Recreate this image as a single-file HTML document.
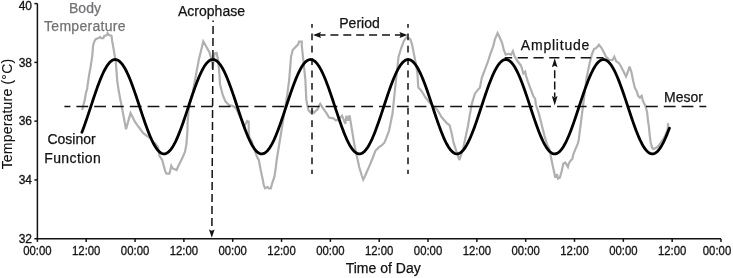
<!DOCTYPE html>
<html><head><meta charset="utf-8"><style>
html,body{margin:0;padding:0;background:#fff;}
body{width:733px;height:278px;overflow:hidden;}
svg{display:block;will-change:transform;}
text{font-family:"Liberation Sans",sans-serif;}
</style></head><body>
<svg width="733" height="278" viewBox="0 0 733 278">
<rect width="733" height="278" fill="#fff"/>
<path d="M82.2,110.0 L83.5,104.6 L84.7,100.2 L86.0,92.6 L87.2,88.8 L87.6,85.0 L89.2,74.4 L90.8,65.8 L92.4,55.0 L93.0,46.2 L94.1,41.9 L95.7,39.2 L98.4,38.1 L100.0,37.0 L101.0,38.2 L103.4,38.2 L104.3,35.9 L106.5,35.4 L107.6,33.2 L108.7,34.9 L111.5,35.9 L112.2,41.0 L113.7,49.6 L115.8,62.0 L117.2,80.7 L118.7,90.8 L120.8,102.0 L122.4,110.0 L126.0,129.3 L130.5,113.1 L135.0,122.0 L137.7,125.7 L139.5,128.0 L143.0,133.0 L147.0,136.0 L150.0,138.0 L153.5,142.5 L155.0,143.4 L158.0,147.0 L159.4,155.8 L162.2,160.0 L165.1,170.9 L166.5,173.7 L169.4,173.7 L171.3,165.8 L172.7,168.4 L176.6,170.0 L178.8,165.0 L182.0,158.8 L185.0,151.6 L186.4,144.4 L187.5,130.0 L187.6,122.0 L188.6,110.0 L190.5,100.0 L192.8,92.0 L194.1,85.0 L195.7,76.6 L196.8,70.1 L197.9,64.7 L198.9,59.3 L200.0,55.0 L203.3,41.5 L205.8,45.8 L209.4,52.3 L212.0,61.0 L212.6,69.0 L214.4,53.7 L216.6,53.0 L218.0,59.5 L219.5,75.0 L220.0,84.4 L222.8,95.2 L225.5,101.5 L229.0,105.0 L232.7,106.0 L236.0,108.0 L240.0,117.0 L244.4,125.9 L247.3,120.9 L248.7,121.6 L248.7,131.0 L249.4,137.4 L251.5,141.0 L256.9,156.6 L258.8,160.0 L260.7,170.0 L262.6,178.9 L263.8,185.2 L265.1,188.3 L267.6,187.0 L268.9,188.3 L270.8,188.3 L272.0,183.9 L274.5,176.4 L275.8,167.5 L276.7,160.0 L287.2,95.0 L289.2,80.0 L291.0,57.0 L292.8,49.8 L295.5,47.1 L298.2,44.4 L299.0,41.7 L301.8,41.7 L301.8,46.2 L303.2,58.8 L304.5,71.4 L305.4,80.0 L306.3,99.6 L307.6,106.5 L308.6,110.5 L310.5,112.5 L312.0,110.5 L314.0,112.8 L316.0,110.5 L317.6,109.5 L318.6,106.5 L320.2,103.8 L323.4,108.8 L326.5,113.2 L329.0,117.6 L333.4,118.3 L336.0,120.5 L339.0,119.0 L342.0,115.8 L343.7,119.6 L345.3,123.9 L346.4,115.8 L348.0,120.7 L349.6,115.3 L350.7,122.3 L352.8,135.0 L354.5,145.6 L356.5,154.4 L359.2,167.0 L361.9,176.0 L363.2,179.6 L364.6,176.9 L368.2,168.8 L372.7,158.0 L375.4,150.8 L379.0,147.2 L381.7,145.4 L384.4,142.7 L386.3,138.2 L389.0,131.0 L390.8,122.0 L392.6,113.0 L393.5,104.0 L394.4,95.0 L398.5,57.0 L401.2,48.0 L403.9,40.8 L406.6,37.2 L410.2,39.0 L412.0,44.4 L413.8,53.4 L415.6,62.4 L417.4,73.0 L418.3,87.6 L421.0,90.3 L422.8,93.0 L425.5,97.5 L430.0,103.0 L433.0,106.0 L437.0,109.5 L439.5,113.5 L441.5,117.0 L445.0,121.0 L447.0,123.5 L449.5,125.0 L451.7,133.4 L453.5,142.4 L456.6,151.9 L459.3,160.0 L461.5,154.0 L463.6,146.5 L466.0,135.2 L467.9,126.2 L469.7,115.4 L471.9,103.6 L474.9,93.7 L477.9,89.7 L479.9,87.7 L481.8,77.8 L484.8,69.9 L487.8,62.0 L490.4,53.8 L493.1,46.6 L494.9,39.4 L497.6,33.1 L499.4,36.7 L502.1,43.0 L503.9,50.2 L505.7,54.7 L508.4,53.8 L511.1,54.7 L512.9,51.1 L514.7,56.5 L517.4,61.0 L521.0,65.5 L523.4,73.5 L525.2,71.7 L526.1,76.2 L527.9,81.6 L530.6,88.8 L533.3,96.0 L535.1,98.7 L536.0,105.0 L539.0,114.0 L541.7,124.8 L544.4,135.6 L547.1,144.6 L549.8,150.0 L550.8,156.2 L552.6,165.2 L554.4,173.3 L555.3,177.8 L557.1,174.2 L558.0,178.7 L559.8,177.8 L561.6,171.5 L563.4,163.4 L565.2,162.5 L567.9,167.0 L568.8,163.4 L570.6,160.7 L572.4,158.9 L573.3,154.4 L575.1,149.9 L577.8,143.6 L578.7,140.0 L584.4,95.0 L586.5,78.2 L589.7,63.1 L591.9,54.4 L594.0,49.0 L596.2,48.0 L599.0,44.7 L601.6,48.0 L603.8,52.3 L605.9,56.6 L609.2,59.8 L612.4,60.0 L614.3,56.7 L616.1,61.2 L618.8,63.0 L620.6,65.7 L623.3,71.1 L626.0,76.5 L627.8,72.0 L629.6,66.6 L631.4,72.0 L633.2,81.0 L635.0,88.2 L636.8,91.5 L638.1,95.8 L639.9,97.6 L641.7,95.8 L643.0,101.2 L645.3,105.7 L647.1,112.0 L648.0,121.0 L648.8,125.8 L649.7,134.8 L650.6,142.0 L652.0,147.4 L653.3,149.2 L655.1,148.3 L656.9,147.4 L658.7,145.6 L662.0,141.0 L665.0,136.0 L667.7,129.4 L668.2,123.1" fill="none" stroke="#b0b0b0" stroke-width="2.2" stroke-linejoin="miter" stroke-miterlimit="3"/>
<g stroke="#141213" stroke-width="1.5" fill="none">
<line x1="64.4" y1="106.5" x2="706.3" y2="106.5" stroke-dasharray="11.8 6" stroke-dashoffset="5.8"/>
<line x1="504.7" y1="57.7" x2="603.5" y2="57.7" stroke-dasharray="10.2 5.55" stroke-dashoffset="2.75"/>
<line x1="213.1" y1="20.5" x2="211.9" y2="226" stroke-dasharray="8 4" stroke-dashoffset="6.5"/>
<line x1="312.0" y1="24" x2="312.0" y2="174" stroke-dasharray="6.8 5.6" stroke-dashoffset="3"/>
<line x1="408.0" y1="24" x2="408.0" y2="174" stroke-dasharray="6.8 5.6" stroke-dashoffset="3"/>
<line x1="317.5" y1="35.1" x2="402" y2="35.1" stroke-dasharray="8 4.9"/>
<line x1="554.7" y1="70.2" x2="554.7" y2="97" stroke-dasharray="8 3.2"/>
</g>
<g fill="#141213">
<path d="M209.00,229.50 L211.80,230.75 L214.60,229.50 L211.80,237.80 Z"/>
<path d="M321.00,32.10 L319.80,35.10 L321.00,38.10 L313.00,35.10 Z"/>
<path d="M399.50,32.10 L400.70,35.10 L399.50,38.10 L407.50,35.10 Z"/>
<path d="M551.85,67.20 L554.70,65.85 L557.55,67.20 L554.70,58.20 Z"/>
<path d="M551.85,96.10 L554.70,97.52 L557.55,96.10 L554.70,105.60 Z"/>
</g>
<path d="M81.90,132.24 L82.90,129.63 L83.90,126.93 L84.90,124.15 L85.90,121.29 L86.90,118.38 L87.90,115.41 L88.90,112.41 L89.90,109.39 L90.90,106.35 L91.90,103.32 L92.90,100.30 L93.90,97.31 L94.90,94.35 L95.90,91.45 L96.90,88.61 L97.90,85.84 L98.90,83.16 L99.90,80.58 L100.90,78.11 L101.90,75.75 L102.90,73.52 L103.90,71.43 L104.90,69.49 L105.90,67.70 L106.90,66.07 L107.90,64.61 L108.90,63.32 L109.90,62.22 L110.90,61.29 L111.90,60.56 L112.90,60.02 L113.90,59.67 L114.90,59.51 L115.90,59.55 L116.90,59.78 L117.90,60.21 L118.90,60.83 L119.90,61.64 L120.90,62.64 L121.90,63.82 L122.90,65.17 L123.90,66.70 L124.90,68.40 L125.90,70.25 L126.90,72.25 L127.90,74.40 L128.90,76.68 L129.90,79.08 L130.90,81.60 L131.90,84.22 L132.90,86.94 L133.90,89.74 L134.90,92.60 L135.90,95.53 L136.90,98.50 L137.90,101.50 L138.90,104.53 L139.90,107.57 L140.90,110.60 L141.90,113.62 L142.90,116.60 L143.90,119.55 L144.90,122.44 L145.90,125.27 L146.90,128.02 L147.90,130.69 L148.90,133.25 L149.90,135.71 L150.90,138.04 L151.90,140.24 L152.90,142.31 L153.90,144.23 L154.90,145.99 L155.90,147.59 L156.90,149.02 L157.90,150.28 L158.90,151.35 L159.90,152.24 L160.90,152.95 L161.90,153.46 L162.90,153.78 L163.90,153.90 L164.90,153.83 L165.90,153.56 L166.90,153.10 L167.90,152.44 L168.90,151.60 L169.90,150.57 L170.90,149.36 L171.90,147.98 L172.90,146.42 L173.90,144.70 L174.90,142.82 L175.90,140.79 L176.90,138.62 L177.90,136.32 L178.90,133.89 L179.90,131.36 L180.90,128.72 L181.90,125.99 L182.90,123.18 L183.90,120.30 L184.90,117.37 L185.90,114.39 L186.90,111.38 L187.90,108.35 L188.90,105.31 L189.90,102.28 L190.90,99.27 L191.90,96.29 L192.90,93.35 L193.90,90.47 L194.90,87.65 L195.90,84.91 L196.90,82.27 L197.90,79.72 L198.90,77.29 L199.90,74.97 L200.90,72.79 L201.90,70.75 L202.90,68.86 L203.90,67.12 L204.90,65.55 L205.90,64.15 L206.90,62.92 L207.90,61.88 L208.90,61.02 L209.90,60.35 L210.90,59.87 L211.90,59.59 L212.90,59.50 L213.90,59.61 L214.90,59.91 L215.90,60.40 L216.90,61.09 L217.90,61.96 L218.90,63.02 L219.90,64.26 L220.90,65.68 L221.90,67.27 L222.90,69.02 L223.90,70.92 L224.90,72.97 L225.90,75.17 L226.90,77.49 L227.90,79.93 L228.90,82.49 L229.90,85.14 L230.90,87.89 L231.90,90.71 L232.90,93.60 L233.90,96.54 L234.90,99.53 L235.90,102.54 L236.90,105.57 L237.90,108.61 L238.90,111.64 L239.90,114.64 L240.90,117.62 L241.90,120.55 L242.90,123.42 L243.90,126.23 L244.90,128.95 L245.90,131.58 L246.90,134.11 L247.90,136.52 L248.90,138.81 L249.90,140.97 L250.90,142.98 L251.90,144.85 L252.90,146.56 L253.90,148.10 L254.90,149.47 L255.90,150.67 L256.90,151.68 L257.90,152.51 L258.90,153.14 L259.90,153.59 L260.90,153.84 L261.90,153.90 L262.90,153.76 L263.90,153.42 L264.90,152.89 L265.90,152.18 L266.90,151.27 L267.90,150.18 L268.90,148.91 L269.90,147.46 L270.90,145.85 L271.90,144.07 L272.90,142.14 L273.90,140.06 L274.90,137.84 L275.90,135.50 L276.90,133.04 L277.90,130.46 L278.90,127.79 L279.90,125.03 L280.90,122.20 L281.90,119.30 L282.90,116.35 L283.90,113.36 L284.90,110.34 L285.90,107.31 L286.90,104.27 L287.90,101.25 L288.90,98.24 L289.90,95.27 L290.90,92.35 L291.90,89.49 L292.90,86.70 L293.90,83.99 L294.90,81.38 L295.90,78.87 L296.90,76.48 L297.90,74.21 L298.90,72.08 L299.90,70.09 L300.90,68.25 L301.90,66.57 L302.90,65.05 L303.90,63.71 L304.90,62.55 L305.90,61.56 L306.90,60.77 L307.90,60.17 L308.90,59.75 L309.90,59.54 L310.90,59.51 L311.90,59.69 L312.90,60.05 L313.90,60.62 L314.90,61.37 L315.90,62.31 L316.90,63.43 L317.90,64.73 L318.90,66.20 L319.90,67.85 L320.90,69.65 L321.90,71.61 L322.90,73.71 L323.90,75.95 L324.90,78.31 L325.90,80.80 L326.90,83.39 L327.90,86.08 L328.90,88.85 L329.90,91.69 L330.90,94.60 L331.90,97.56 L332.90,100.56 L333.90,103.58 L334.90,106.61 L335.90,109.65 L336.90,112.67 L337.90,115.67 L338.90,118.63 L339.90,121.54 L340.90,124.39 L341.90,127.17 L342.90,129.86 L343.90,132.46 L344.90,134.95 L345.90,137.32 L346.90,139.57 L347.90,141.68 L348.90,143.64 L349.90,145.45 L350.90,147.11 L351.90,148.59 L352.90,149.90 L353.90,151.04 L354.90,151.98 L355.90,152.75 L356.90,153.32 L357.90,153.70 L358.90,153.88 L359.90,153.87 L360.90,153.66 L361.90,153.26 L362.90,152.67 L363.90,151.89 L364.90,150.92 L365.90,149.76 L366.90,148.43 L367.90,146.93 L368.90,145.25 L369.90,143.42 L370.90,141.44 L371.90,139.32 L372.90,137.05 L373.90,134.67 L374.90,132.17 L375.90,129.56 L376.90,126.85 L377.90,124.07 L378.90,121.21 L379.90,118.29 L380.90,115.33 L381.90,112.33 L382.90,109.30 L383.90,106.27 L384.90,103.23 L385.90,100.21 L386.90,97.22 L387.90,94.27 L388.90,91.37 L389.90,88.53 L390.90,85.76 L391.90,83.09 L392.90,80.51 L393.90,78.04 L394.90,75.69 L395.90,73.46 L396.90,71.38 L397.90,69.44 L398.90,67.65 L399.90,66.03 L400.90,64.57 L401.90,63.29 L402.90,62.19 L403.90,61.27 L404.90,60.54 L405.90,60.00 L406.90,59.66 L407.90,59.51 L408.90,59.55 L409.90,59.79 L410.90,60.23 L411.90,60.85 L412.90,61.67 L413.90,62.67 L414.90,63.85 L415.90,65.22 L416.90,66.75 L417.90,68.45 L418.90,70.31 L419.90,72.31 L420.90,74.46 L421.90,76.75 L422.90,79.15 L423.90,81.67 L424.90,84.30 L425.90,87.02 L426.90,89.82 L427.90,92.68 L428.90,95.61 L429.90,98.58 L430.90,101.59 L431.90,104.62 L432.90,107.65 L433.90,110.69 L434.90,113.70 L435.90,116.69 L436.90,119.63 L437.90,122.53 L438.90,125.35 L439.90,128.10 L440.90,130.76 L441.90,133.32 L442.90,135.77 L443.90,138.10 L444.90,140.30 L445.90,142.37 L446.90,144.28 L447.90,146.04 L448.90,147.63 L449.90,149.06 L450.90,150.31 L451.90,151.38 L452.90,152.27 L453.90,152.96 L454.90,153.47 L455.90,153.78 L456.90,153.90 L457.90,153.82 L458.90,153.55 L459.90,153.08 L460.90,152.42 L461.90,151.57 L462.90,150.54 L463.90,149.32 L464.90,147.93 L465.90,146.37 L466.90,144.64 L467.90,142.76 L468.90,140.73 L469.90,138.55 L470.90,136.25 L471.90,133.82 L472.90,131.28 L473.90,128.64 L474.90,125.91 L475.90,123.10 L476.90,120.22 L477.90,117.28 L478.90,114.30 L479.90,111.29 L480.90,108.26 L481.90,105.23 L482.90,102.20 L483.90,99.18 L484.90,96.20 L485.90,93.27 L486.90,90.38 L487.90,87.57 L488.90,84.84 L489.90,82.19 L490.90,79.65 L491.90,77.22 L492.90,74.91 L493.90,72.73 L494.90,70.69 L495.90,68.81 L496.90,67.08 L497.90,65.51 L498.90,64.11 L499.90,62.89 L500.90,61.85 L501.90,61.00 L502.90,60.34 L503.90,59.86 L504.90,59.58 L505.90,59.50 L506.90,59.61 L507.90,59.92 L508.90,60.42 L509.90,61.11 L510.90,61.99 L511.90,63.06 L512.90,64.30 L513.90,65.72 L514.90,67.31 L515.90,69.07 L516.90,70.98 L517.90,73.03 L518.90,75.23 L519.90,77.56 L520.90,80.01 L521.90,82.56 L522.90,85.22 L523.90,87.97 L524.90,90.79 L525.90,93.68 L526.90,96.63 L527.90,99.61 L528.90,102.63 L529.90,105.66 L530.90,108.70 L531.90,111.72 L532.90,114.73 L533.90,117.70 L534.90,120.63 L535.90,123.50 L536.90,126.30 L537.90,129.02 L538.90,131.65 L539.90,134.18 L540.90,136.59 L541.90,138.87 L542.90,141.03 L543.90,143.04 L544.90,144.90 L545.90,146.60 L546.90,148.14 L547.90,149.51 L548.90,150.70 L549.90,151.71 L550.90,152.53 L551.90,153.16 L552.90,153.60 L553.90,153.84 L554.90,153.89 L555.90,153.75 L556.90,153.41 L557.90,152.88 L558.90,152.15 L559.90,151.24 L560.90,150.14 L561.90,148.87 L562.90,147.42 L563.90,145.80 L564.90,144.02 L565.90,142.08 L566.90,140.00 L567.90,137.78 L568.90,135.43 L569.90,132.96 L570.90,130.39 L571.90,127.71 L572.90,124.95 L573.90,122.12 L574.90,119.22 L575.90,116.26 L576.90,113.27 L577.90,110.25 L578.90,107.22 L579.90,104.18 L580.90,101.16 L581.90,98.16 L582.90,95.19 L583.90,92.27 L584.90,89.41 L585.90,86.62 L586.90,83.92 L587.90,81.31 L588.90,78.80 L589.90,76.41 L590.90,74.15 L591.90,72.02 L592.90,70.03 L593.90,68.20 L594.90,66.52 L595.90,65.01 L596.90,63.67 L597.90,62.52 L598.90,61.54 L599.90,60.75 L600.90,60.15 L601.90,59.75 L602.90,59.53 L603.90,59.52 L604.90,59.70 L605.90,60.07 L606.90,60.63 L607.90,61.39 L608.90,62.33 L609.90,63.46 L610.90,64.77 L611.90,66.25 L612.90,67.90 L613.90,69.70 L614.90,71.67 L615.90,73.77 L616.90,76.01 L617.90,78.38 L618.90,80.87 L619.90,83.46 L620.90,86.15 L621.90,88.93 L622.90,91.78 L623.90,94.69 L624.90,97.65 L625.90,100.64 L626.90,103.67 L627.90,106.70 L628.90,109.73 L629.90,112.76 L630.90,115.75 L631.90,118.71 L632.90,121.62 L633.90,124.47 L634.90,127.25 L635.90,129.94 L636.90,132.53 L637.90,135.02 L638.90,137.39 L639.90,139.63 L640.90,141.73 L641.90,143.70 L642.90,145.50 L643.90,147.15 L644.90,148.63 L645.90,149.94 L646.90,151.07 L647.90,152.01 L648.90,152.77 L649.90,153.33 L650.90,153.70 L651.90,153.88 L652.90,153.87 L653.90,153.65 L654.90,153.25 L655.90,152.65 L656.90,151.86 L657.90,150.88 L658.90,149.73 L659.90,148.39 L660.90,146.88 L661.90,145.20 L662.90,143.37 L663.90,141.38 L664.90,139.25 L665.90,136.99 L666.90,134.60 L667.90,132.09 L668.90,129.48 L669.40,128.14" fill="none" stroke="#000" stroke-width="2.8" stroke-linejoin="round" stroke-linecap="round"/>
<g stroke="#141213" stroke-width="1.5" fill="none">
<path d="M37.40,3.60 L37.40,238.70 L721.00,238.70"/>
<line x1="37.40" y1="238.70" x2="37.40" y2="241.90"/><line x1="86.23" y1="238.70" x2="86.23" y2="241.90"/><line x1="135.06" y1="238.70" x2="135.06" y2="241.90"/><line x1="183.89" y1="238.70" x2="183.89" y2="241.90"/><line x1="232.71" y1="238.70" x2="232.71" y2="241.90"/><line x1="281.54" y1="238.70" x2="281.54" y2="241.90"/><line x1="330.37" y1="238.70" x2="330.37" y2="241.90"/><line x1="379.20" y1="238.70" x2="379.20" y2="241.90"/><line x1="428.03" y1="238.70" x2="428.03" y2="241.90"/><line x1="476.86" y1="238.70" x2="476.86" y2="241.90"/><line x1="525.69" y1="238.70" x2="525.69" y2="241.90"/><line x1="574.51" y1="238.70" x2="574.51" y2="241.90"/><line x1="623.34" y1="238.70" x2="623.34" y2="241.90"/><line x1="672.17" y1="238.70" x2="672.17" y2="241.90"/><line x1="721.00" y1="238.70" x2="721.00" y2="241.90"/><line x1="34.40" y1="238.70" x2="37.40" y2="238.70"/><line x1="34.40" y1="179.92" x2="37.40" y2="179.92"/><line x1="34.40" y1="121.15" x2="37.40" y2="121.15"/><line x1="34.40" y1="62.38" x2="37.40" y2="62.38"/><line x1="34.40" y1="3.60" x2="37.40" y2="3.60"/>
</g>
<g fill="#141213" font-size="12" stroke="#141213" stroke-width="0.3">
<text x="37.40" y="254.8" text-anchor="middle" textLength="28.4" lengthAdjust="spacingAndGlyphs">00:00</text><text x="86.23" y="254.8" text-anchor="middle" textLength="28.4" lengthAdjust="spacingAndGlyphs">12:00</text><text x="135.06" y="254.8" text-anchor="middle" textLength="28.4" lengthAdjust="spacingAndGlyphs">00:00</text><text x="183.89" y="254.8" text-anchor="middle" textLength="28.4" lengthAdjust="spacingAndGlyphs">12:00</text><text x="232.71" y="254.8" text-anchor="middle" textLength="28.4" lengthAdjust="spacingAndGlyphs">00:00</text><text x="281.54" y="254.8" text-anchor="middle" textLength="28.4" lengthAdjust="spacingAndGlyphs">12:00</text><text x="330.37" y="254.8" text-anchor="middle" textLength="28.4" lengthAdjust="spacingAndGlyphs">00:00</text><text x="379.20" y="254.8" text-anchor="middle" textLength="28.4" lengthAdjust="spacingAndGlyphs">12:00</text><text x="428.03" y="254.8" text-anchor="middle" textLength="28.4" lengthAdjust="spacingAndGlyphs">00:00</text><text x="476.86" y="254.8" text-anchor="middle" textLength="28.4" lengthAdjust="spacingAndGlyphs">12:00</text><text x="525.69" y="254.8" text-anchor="middle" textLength="28.4" lengthAdjust="spacingAndGlyphs">00:00</text><text x="574.51" y="254.8" text-anchor="middle" textLength="28.4" lengthAdjust="spacingAndGlyphs">12:00</text><text x="623.34" y="254.8" text-anchor="middle" textLength="28.4" lengthAdjust="spacingAndGlyphs">00:00</text><text x="672.17" y="254.8" text-anchor="middle" textLength="28.4" lengthAdjust="spacingAndGlyphs">12:00</text><text x="717.00" y="254.8" text-anchor="middle" textLength="28.4" lengthAdjust="spacingAndGlyphs">00:00</text>
<text x="32.0" y="243.00" text-anchor="end">32</text><text x="32.0" y="184.22" text-anchor="end">34</text><text x="32.0" y="125.45" text-anchor="end">36</text><text x="32.0" y="66.67" text-anchor="end">38</text><text x="32.0" y="10.00" text-anchor="end">40</text>
</g>
<g fill="#141213" font-size="14" stroke="#141213" stroke-width="0.25">
<text x="211.5" y="15.8" text-anchor="middle">Acrophase</text>
<text x="359.5" y="27.8" text-anchor="middle">Period</text>
<text x="520.8" y="50.1" textLength="68.6">Amplitude</text>
<text x="664" y="101.6">Mesor</text>
<text x="71.5" y="144.4" text-anchor="middle">Cosinor</text>
<text x="44.2" y="163" textLength="56.6">Function</text>
<text x="383.2" y="272.5" text-anchor="middle">Time of Day</text>
<text transform="translate(11.6,114.1) rotate(-90)" text-anchor="middle" textLength="110.5" stroke-width="0.1">Temperature (°C)</text>
</g>
<g fill="#727376" font-size="14" stroke="#727376" stroke-width="0.25">
<text x="85" y="12.6" text-anchor="middle">Body</text>
<text x="44" y="31.3" textLength="81.6">Temperature</text>
</g>
</svg>
</body></html>
